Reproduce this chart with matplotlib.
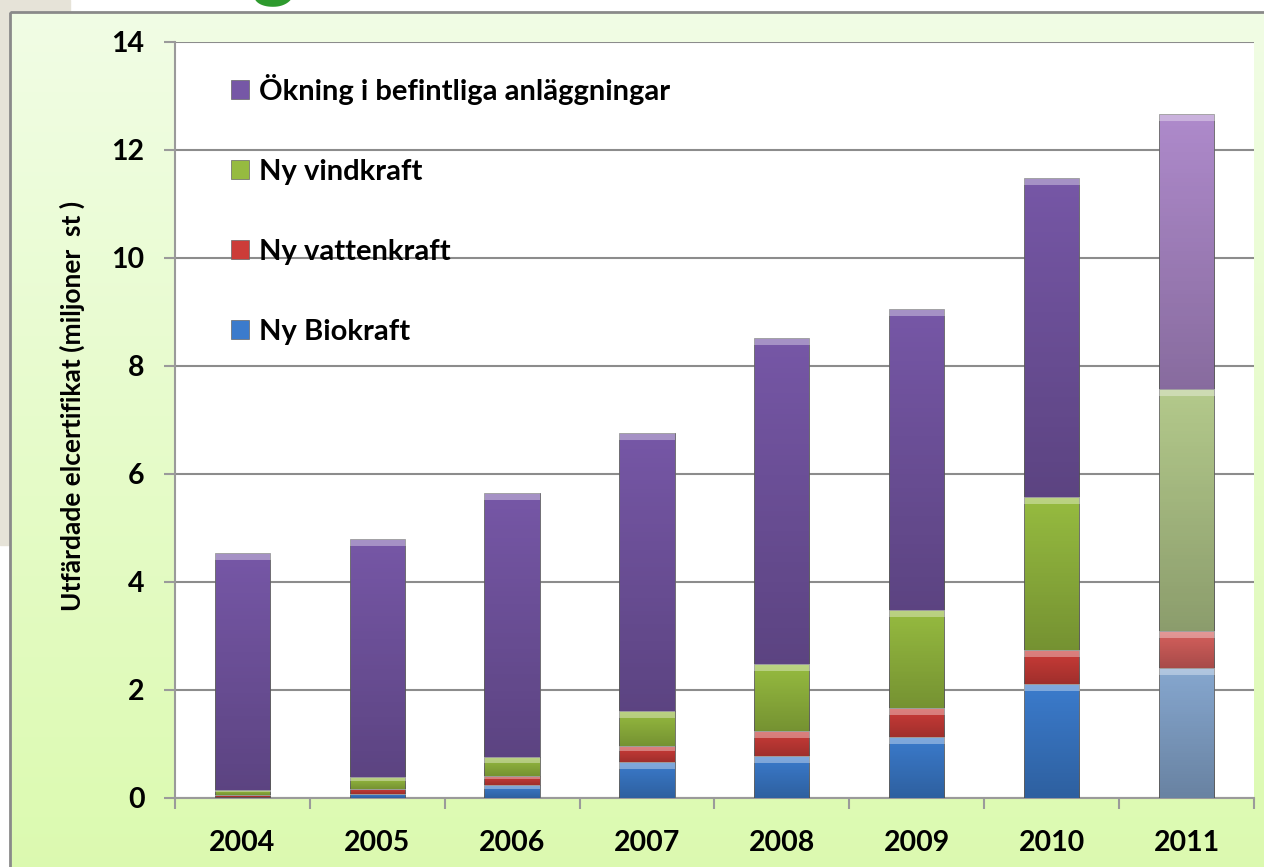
import matplotlib
matplotlib.use('Agg')
import matplotlib.pyplot as plt
import numpy as np
from matplotlib.patches import Patch, Rectangle

plt.rcParams['font.family'] = ['Lato', 'DejaVu Sans']
plt.rcParams['font.weight'] = 'bold'

# data (miljoner st)
years = ['2004', '2005', '2006', '2007', '2008', '2009', '2010', '2011']
bio = [0.02, 0.07, 0.24, 0.67, 0.77, 1.13, 2.11, 2.41]
vatten = [0.03, 0.10, 0.17, 0.29, 0.47, 0.53, 0.63, 0.68]
vind = [0.09, 0.21, 0.34, 0.65, 1.24, 1.83, 2.83, 4.48]
okning = [4.40, 4.42, 4.90, 5.15, 6.04, 5.57, 5.91, 5.10]

labels = ['Ny Biokraft', 'Ny vattenkraft', 'Ny vindkraft', 'Ökning i befintliga anläggningar']
colors = ['#3b7bcc', '#cc3c38', '#96bb40', '#7657a6']
light = ['#86a7cf', '#d6605d', '#b3c98b', '#ae8acb']  # 2011 ljusare

fig = plt.figure(figsize=(12.64, 8.67), dpi=100)

# bakgrund: beige remsa + grön gradientram
bg = fig.add_axes([0, 0, 1, 1], zorder=-10)
bg.set_xlim(0, 1264)
bg.set_ylim(867, 0)
bg.axis('off')
bg.add_patch(Rectangle((0, 0), 70, 545, color='#e6e3d8'))
grad = np.linspace(0, 1, 256).reshape(-1, 1)
top = np.array([0.945, 0.992, 0.898])
bot = np.array([0.862, 0.980, 0.690])
img = top + (bot - top) * grad[..., None]
bg.imshow(img, extent=[10, 1264, 867, 12], aspect='auto', zorder=1)
bg.add_patch(Rectangle((10, 12), 1260, 860, fill=False, ec='#8a8a8a', lw=2, zorder=2))
bg.text(274, -9, 'g', color='#2e9a2e', fontsize=60, ha='center', va='baseline', zorder=3)

ax = fig.add_axes([0.1384, 0.0796, 0.8536, 0.872])
ax.set_facecolor('white')
x = np.arange(len(years))
w = 0.41
series = [bio, vatten, vind, okning]
bottom = np.zeros(len(years))

# skuggning: mörkare nedtill, ljus kant upptill
t = np.linspace(0, 1, 64)
shade = np.zeros((64, 1, 4))
shade[:, 0, 3] = 0.22 * t
hi = np.ones((8, 1, 4))
hi[:, 0, 3] = 0.35

for s, c, lc, lab in zip(series, colors, light, labels):
    cols = [c] * (len(years) - 1) + [lc]
    bars = ax.bar(x, s, w, bottom=bottom, color=cols, edgecolor='#666666', linewidth=0.6, label=lab, zorder=3)
    for b in bars:
        x0, y0, bw, bh = b.get_x(), b.get_y(), b.get_width(), b.get_height()
        if bh <= 0:
            continue
        im = ax.imshow(shade, extent=[x0, x0 + bw, y0, y0 + bh], origin='upper', aspect='auto', zorder=3.5)
        im.set_clip_path(b)
        hh = min(0.13, bh * 0.3)
        im2 = ax.imshow(hi, extent=[x0, x0 + bw, y0 + bh - hh, y0 + bh], origin='upper', aspect='auto', zorder=3.6)
        im2.set_clip_path(b)
    bottom += np.array(s)

ax.set_xlim(-0.5, len(years) - 0.5)
ax.set_ylim(0, 14)
ax.set_yticks(range(0, 15, 2))
ax.yaxis.grid(True, color='#8c8c8c', lw=1.5, zorder=0)
ax.set_axisbelow(True)
for sp in ['top', 'right']:
    ax.spines[sp].set_visible(False)
for sp in ['left', 'bottom']:
    ax.spines[sp].set_color('#9a9a9a')
    ax.spines[sp].set_linewidth(1.5)

ax.set_xticks(x)
ax.set_xticklabels(years)
ax.set_xticks(np.arange(-0.5, len(years)), minor=True)
ax.tick_params(axis='x', which='major', length=0, pad=23, labelsize=20.5)
ax.tick_params(axis='x', which='minor', length=8, color='#9a9a9a', width=1.5)
ax.tick_params(axis='y', length=8, color='#9a9a9a', width=1.5, pad=14, labelsize=20.5)

ax.set_ylabel('Utfärdade elcertifikat (miljoner  st )', fontsize=19, fontweight='bold')
ax.yaxis.set_label_coords(-0.083, 0.519)

handles = [Patch(facecolor=c, edgecolor='#666666', lw=0.5) for c in colors][::-1]
ax.legend(handles, labels[::-1], loc='upper left', bbox_to_anchor=(0.052, 0.958),
          frameon=False, fontsize=21, labelspacing=1.85, handlelength=0.6,
          handleheight=0.6, handletextpad=0.35, borderaxespad=0, borderpad=0)

fig.savefig('out.png', dpi=100)
